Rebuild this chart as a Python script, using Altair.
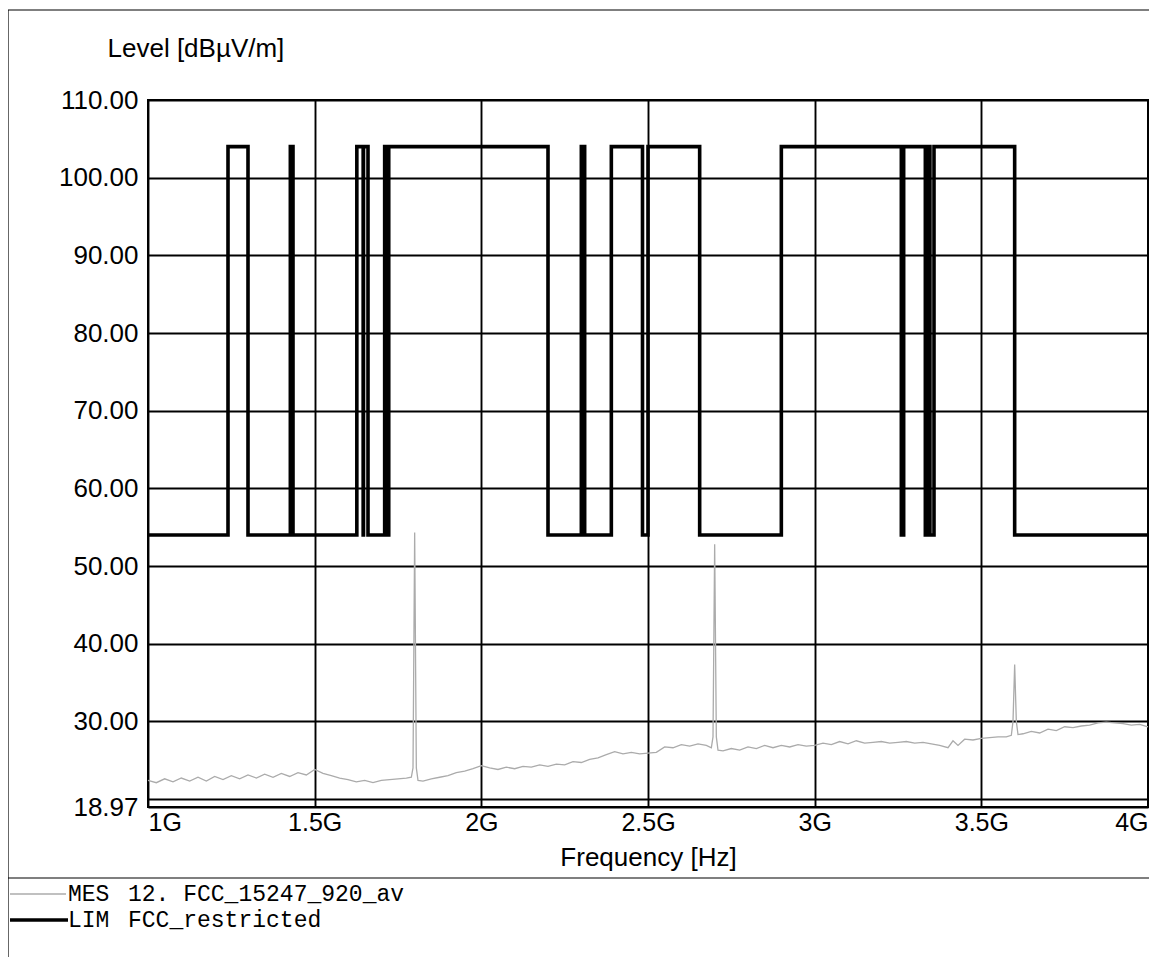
import altair as alt
import pandas as pd

# ---- axis ticks ----
x_ticks = [1.0, 1.5, 2.0, 2.5, 3.0, 3.5, 4.0]
y_ticks = [18.97, 20, 30, 40, 50, 60, 70, 80, 90, 100, 110]

# ---- limit line (FCC_restricted), step-after breakpoints, GHz / dBuV/m ----
lim_freq = [1.0, 1.24, 1.30, 1.427, 1.435, 1.6265, 1.6455, 1.6465, 1.66, 1.71,
            1.7188, 1.7222, 2.2, 2.3, 2.31, 2.39, 2.4835, 2.5, 2.655, 2.9,
            3.26, 3.267, 3.332, 3.339, 3.3458, 3.358, 3.6, 4.0]
lim_level = [54, 104, 54, 104, 54, 104, 54, 104, 54, 104,
             54, 104, 54, 104, 54, 104, 54, 104, 54, 104,
             54, 104, 54, 104, 54, 104, 54, 54]

# ---- measured trace (MES), GHz / dBuV/m ----
mes_freq = [1.000, 1.025, 1.050, 1.075, 1.100, 1.125, 1.150, 1.175, 1.200, 1.225,
            1.250, 1.275, 1.300, 1.325, 1.350, 1.375, 1.400, 1.425, 1.450, 1.475,
            1.500, 1.525, 1.550, 1.575, 1.600, 1.625, 1.650, 1.675, 1.700, 1.725,
            1.750, 1.775, 1.790, 1.795, 1.800, 1.805, 1.810, 1.825, 1.850, 1.875,
            1.900, 1.925, 1.950, 1.975, 2.000, 2.025, 2.050, 2.075, 2.100, 2.125,
            2.150, 2.175, 2.200, 2.225, 2.250, 2.275, 2.300, 2.325, 2.350, 2.375,
            2.400, 2.425, 2.450, 2.475, 2.500, 2.525, 2.550, 2.575, 2.600, 2.625,
            2.650, 2.675, 2.690, 2.695, 2.700, 2.705, 2.710, 2.725, 2.750, 2.775,
            2.800, 2.825, 2.850, 2.875, 2.900, 2.925, 2.950, 2.975, 3.000, 3.025,
            3.050, 3.075, 3.100, 3.125, 3.150, 3.175, 3.200, 3.225, 3.250, 3.275,
            3.300, 3.325, 3.350, 3.375, 3.400, 3.415, 3.430, 3.450, 3.475, 3.500,
            3.525, 3.550, 3.575, 3.590, 3.595, 3.600, 3.605, 3.610, 3.625, 3.650,
            3.675, 3.700, 3.725, 3.750, 3.775, 3.800, 3.825, 3.850, 3.875, 3.900,
            3.925, 3.950, 3.975, 4.000]
mes_level = [22.4, 22.1, 22.6, 22.2, 22.7, 22.3, 22.8, 22.3, 22.9, 22.5,
             23.0, 22.6, 23.1, 22.7, 23.2, 22.8, 23.3, 22.9, 23.4, 23.1,
             23.8, 23.3, 23.0, 22.7, 22.5, 22.2, 22.4, 22.1, 22.4, 22.5,
             22.6, 22.7, 22.8, 24.0, 54.3, 24.0, 22.4, 22.3, 22.6, 22.8,
             23.0, 23.4, 23.6, 23.9, 24.3, 24.0, 23.8, 24.1, 23.9, 24.2,
             24.1, 24.4, 24.2, 24.5, 24.4, 24.8, 24.7, 25.1, 25.3, 25.7,
             26.1, 25.8, 26.0, 25.8, 25.9, 26.0, 26.7, 26.6, 27.0, 26.8,
             27.1, 26.9, 26.6, 28.0, 52.8, 28.0, 26.3, 26.2, 26.5, 26.3,
             26.7, 26.5, 26.9, 26.6, 26.9, 26.7, 27.0, 26.8, 26.9, 27.2,
             27.0, 27.4, 27.1, 27.5, 27.2, 27.3, 27.4, 27.2, 27.3, 27.4,
             27.2, 27.3, 27.1, 26.9, 26.6, 27.5, 26.9, 27.7, 27.6, 27.8,
             27.9, 28.0, 28.0, 28.2, 30.0, 37.3, 30.0, 28.3, 28.4, 28.7,
             28.5, 29.0, 28.8, 29.3, 29.2, 29.4, 29.5, 29.8, 29.9, 29.8,
             29.7, 29.5, 29.6, 29.3]

legend_keys = ["MES", "LIM"]
legend_names = ["12. FCC_15247_920_av", "FCC_restricted"]

W, H = 1000, 707
SANS = "Liberation Sans"
MONO = "Liberation Mono"

lim_df = pd.DataFrame({"f": lim_freq, "v": lim_level})
mes_df = pd.DataFrame({"f": mes_freq, "v": mes_level})
one = pd.DataFrame({"k": [0]})

xscale = alt.Scale(domain=[1, 4], nice=False, zero=False)
yscale = alt.Scale(domain=[18.97, 110], nice=False, zero=False)

xaxis = alt.Axis(values=x_ticks, labelExpr="datum.value + 'G'", labelFlush=True,
                 labelOverlap=False, tickSize=0, domain=False, grid=True,
                 gridColor="black", gridWidth=1.9, gridOpacity=1,
                 labelFont=SANS, labelFontSize=25, labelColor="black", labelPadding=3,
                 title="Frequency [Hz]", titleFont=SANS, titleFontSize=26,
                 titleFontWeight="normal", titleColor="black", titleY=50,
                 titleBaseline="middle")
yaxis = alt.Axis(values=y_ticks,
                 labelExpr="datum.value == 20 ? '' : format(datum.value, '.2f')",
                 labelOverlap=False, labelBound=False, tickSize=0, domain=False,
                 grid=True, gridColor="black", gridWidth=1.9, gridOpacity=1,
                 labelFont=SANS, labelFontSize=26, labelColor="black", labelPadding=10,
                 title="Level [dBµV/m]", titleFont=SANS, titleFontSize=26,
                 titleFontWeight="normal", titleColor="black", titleAngle=0,
                 titleAlign="left", titleBaseline="middle", titleX=-41, titleY=-52)

mes = alt.Chart(mes_df).mark_line(color="#ababab", strokeWidth=1.3).encode(
    x=alt.X("f:Q", scale=xscale, axis=xaxis),
    y=alt.Y("v:Q", scale=yscale, axis=yaxis),
)
lim = alt.Chart(lim_df).mark_line(color="black", strokeWidth=3.6,
                                   interpolate="step-after").encode(
    x=alt.X("f:Q", scale=xscale, axis=xaxis),
    y=alt.Y("v:Q", scale=yscale, axis=yaxis),
)

# frame and separator
frame_top = alt.Chart(one).mark_rule(color="black", strokeWidth=1.2).encode(
    x=alt.value(-140), x2=alt.value(W + 9), y=alt.value(-90))
frame_left = alt.Chart(one).mark_rule(color="black", strokeWidth=1.2).encode(
    x=alt.value(-140), y=alt.value(-90), y2=alt.value(H + 150))
sep = alt.Chart(one).mark_rule(color="black", strokeWidth=1.2).encode(
    x=alt.value(-140), x2=alt.value(W + 9), y=alt.value(778))

# legend
Y1, Y2 = 794, 820
FS = 23
leg_mes_line = alt.Chart(one).mark_rule(color="#ababab", strokeWidth=1.3).encode(
    x=alt.value(-138), x2=alt.value(-82), y=alt.value(Y1))
leg_lim_line = alt.Chart(one).mark_rule(color="black", strokeWidth=3.6).encode(
    x=alt.value(-138), x2=alt.value(-80), y=alt.value(Y2))
leg_t1 = alt.Chart(one).mark_text(text=legend_keys[0], font=MONO, fontSize=FS,
                                  align="left", baseline="middle", color="black").encode(
    x=alt.value(-80), y=alt.value(Y1))
leg_t2 = alt.Chart(one).mark_text(text=legend_names[0], font=MONO, fontSize=FS,
                                  align="left", baseline="middle", color="black").encode(
    x=alt.value(-20), y=alt.value(Y1))
leg_t3 = alt.Chart(one).mark_text(text=legend_keys[1], font=MONO, fontSize=FS,
                                  align="left", baseline="middle", color="black").encode(
    x=alt.value(-80), y=alt.value(Y2))
leg_t4 = alt.Chart(one).mark_text(text=legend_names[1], font=MONO, fontSize=FS,
                                  align="left", baseline="middle", color="black").encode(
    x=alt.value(-20), y=alt.value(Y2))

chart = alt.layer(
    mes, lim, frame_top, frame_left, sep,
    leg_mes_line, leg_lim_line, leg_t1, leg_t2, leg_t3, leg_t4
).properties(
    width=W, height=H,
    autosize=alt.AutoSizeParams(type="none"),
    padding={"left": 140, "top": 92, "right": 1, "bottom": 150},
    background="white",
).configure_view(stroke="black", strokeWidth=2)

chart.save("out.html", embed_options={"renderer": "svg", "actions": False})
